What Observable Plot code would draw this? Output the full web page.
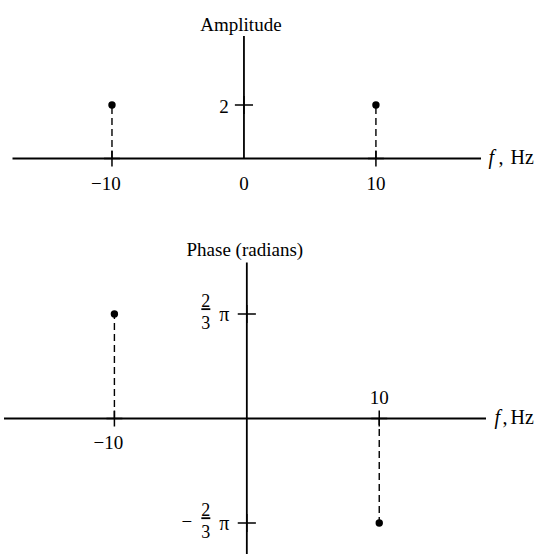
<!DOCTYPE html>
<html>
<head>
<meta charset="utf-8">
<script src="https://cdn.jsdelivr.net/npm/d3@7"></script>
<script src="https://cdn.jsdelivr.net/npm/@observablehq/plot@0.6"></script>
<style>
  html, body { margin: 0; padding: 0; background: #fff; }
  svg { display: block; }
  g[fill="#010101"] text { text-decoration: underline; text-decoration-thickness: 1px; text-underline-offset: 2px; }
</style>
</head>
<body>
<div id="chart"></div>
<script>
// ---- data ----
const freqs = [-10, 10];
const amplitudes = [2, 2];
const phases = [2 * Math.PI / 3, -2 * Math.PI / 3];

const ampXTicks = [-10, 0, 10];
const ampXTickLabels = ["\u221210", "0", "10"];
const ampYTicks = [2];
const ampYTickLabels = ["2"];

const phaseXTicks = [-10, 10];
const phaseXTickLabels = ["\u221210", "10"];
const phaseYTicks = [2 * Math.PI / 3, -2 * Math.PI / 3];
const phaseYNumerators = ["2", "2"];
const phaseYDenominators = ["3", "3"];
const phaseYSigns = ["", "\u2212"];

const ampTitle = "Amplitude";
const phaseTitle = "Phase (radians)";
const xUnitVar = "f";
const xUnitRest = "Hz";

// ---- derived tables ----
const ampData = freqs.map((f, i) => ({f, a: amplitudes[i]}));
const phaseData = freqs.map((f, i) => ({f, p: phases[i]}));
const ampXT = ampXTicks.map((t, i) => ({t, label: ampXTickLabels[i]}));
const ampYT = ampYTicks.map((t, i) => ({t, label: ampYTickLabels[i]}));
const phaseXT = phaseXTicks.map((t, i) => ({t, label: phaseXTickLabels[i], p: phases[freqs.indexOf(t)]}));
const phaseYT = phaseYTicks.map((t, i) => ({t, num: phaseYNumerators[i], den: phaseYDenominators[i], sign: phaseYSigns[i]}));

const font = "'Liberation Serif', 'Times New Roman', Times, serif";
const axisW = 1.8;

function unitLabel(dxF, dxC, dxH) {
  return [
    Plot.text([xUnitVar], {frameAnchor: "right", y: 0, textAnchor: "start", dx: dxF, dy: -1, fontSize: 20, fontStyle: "italic", fill: "black"}),
    Plot.text([","], {frameAnchor: "right", y: 0, textAnchor: "start", dx: dxC, dy: -1, fontSize: 20, fill: "black"}),
    Plot.text([xUnitRest], {frameAnchor: "right", y: 0, textAnchor: "start", dx: dxH, dy: -1, fontSize: 20, fill: "black"})
  ];
}

const amp = Plot.plot({
  width: 537,
  height: 215,
  marginTop: 36,
  marginBottom: 57,
  marginLeft: 12.5,
  marginRight: 56,
  x: {domain: [-17.5, 18], axis: null},
  y: {domain: [0, 4.56], axis: null},
  style: {fontFamily: font, background: "white", color: "black", overflow: "visible"},
  marks: [
    Plot.ruleY([0], {stroke: "black", strokeWidth: axisW}),
    Plot.ruleX([0], {stroke: "black", strokeWidth: axisW}),
    Plot.ruleX(ampData, {x: "f", y1: 0, y2: "a", stroke: "black", strokeWidth: 1.4, strokeDasharray: "7,4"}),
    Plot.dot(ampData, {x: "f", y: "a", r: 3.7, fill: "black"}),
    Plot.dot(ampXT.filter(d => d.t !== 0), {x: "t", y: 0, symbol: "plus", r: 5.2, stroke: "black", strokeWidth: 1.5}),
    Plot.dot(ampYT, {x: 0, y: "t", symbol: "plus", r: 5.9, stroke: "black", strokeWidth: 1.5}),
    Plot.text(ampXT.filter(d => d.t < 0), {x: "t", y: 0, text: "label", dx: -6, dy: 25, fontSize: 19, fill: "black"}),
    Plot.text(ampXT.filter(d => d.t >= 0), {x: "t", y: 0, text: "label", dy: 25, fontSize: 19, fill: "black"}),
    Plot.text(ampYT, {x: 0, y: "t", text: "label", dx: -20, dy: 1.5, fontSize: 19, fill: "black"}),
    Plot.text([ampTitle], {x: 0, frameAnchor: "top", dx: -3, dy: -19, fontSize: 19, fill: "black"}),
    ...unitLabel(7, 17, 29)
  ]
});

const phase = Plot.plot({
  width: 537,
  height: 339,
  marginTop: 47.5,
  marginBottom: 0,
  marginLeft: 4,
  marginRight: 51,
  x: {domain: [-18.3, 18.1], axis: null},
  y: {domain: [-2.725, 3.116], axis: null},
  style: {fontFamily: font, background: "white", color: "black", overflow: "visible"},
  marks: [
    Plot.ruleY([0], {stroke: "black", strokeWidth: axisW}),
    Plot.ruleX([0], {stroke: "black", strokeWidth: axisW}),
    Plot.ruleX(phaseData, {x: "f", y1: 0, y2: "p", stroke: "black", strokeWidth: 1.4, strokeDasharray: "7,4"}),
    Plot.dot(phaseData, {x: "f", y: "p", r: 3.7, fill: "black"}),
    Plot.dot(phaseXT, {x: "t", y: 0, symbol: "plus", r: 5.2, stroke: "black", strokeWidth: 1.5}),
    Plot.dot(phaseYT, {x: 0, y: "t", symbol: "plus", r: 5.9, stroke: "black", strokeWidth: 1.5}),
    Plot.text(phaseXT.filter(d => d.p > 0), {x: "t", y: 0, text: "label", dx: -6, dy: 24, fontSize: 19, fill: "black"}),
    Plot.text(phaseXT.filter(d => d.p < 0), {x: "t", y: 0, text: "label", dy: -21, fontSize: 19, fill: "black"}),
    // numerator (underlined = fraction bar)
    Plot.text(phaseYT, {x: 0, y: "t", text: "num", dx: -41, dy: -12.5, fontSize: 18, fill: "#010101"}),
    Plot.text(phaseYT, {x: 0, y: "t", text: "den", dx: -41, dy: 9.5, fontSize: 18, fill: "black"}),
    Plot.text(phaseYT, {x: 0, y: "t", text: () => "\u03c0", dx: -22.5, dy: 1, fontSize: 20, fill: "black"}),
    Plot.text(phaseYT.filter(d => d.sign), {x: 0, y: "t", text: "sign", dx: -60, dy: -1, fontSize: 19, fill: "black"}),
    Plot.text([phaseTitle], {x: 0, frameAnchor: "top", dx: -2, dy: -20.5, fontSize: 19, fill: "black"}),
    ...unitLabel(8, 16, 24)
  ]
});

const root = document.getElementById("chart");
root.appendChild(amp);
root.appendChild(phase);
</script>
</body>
</html>
